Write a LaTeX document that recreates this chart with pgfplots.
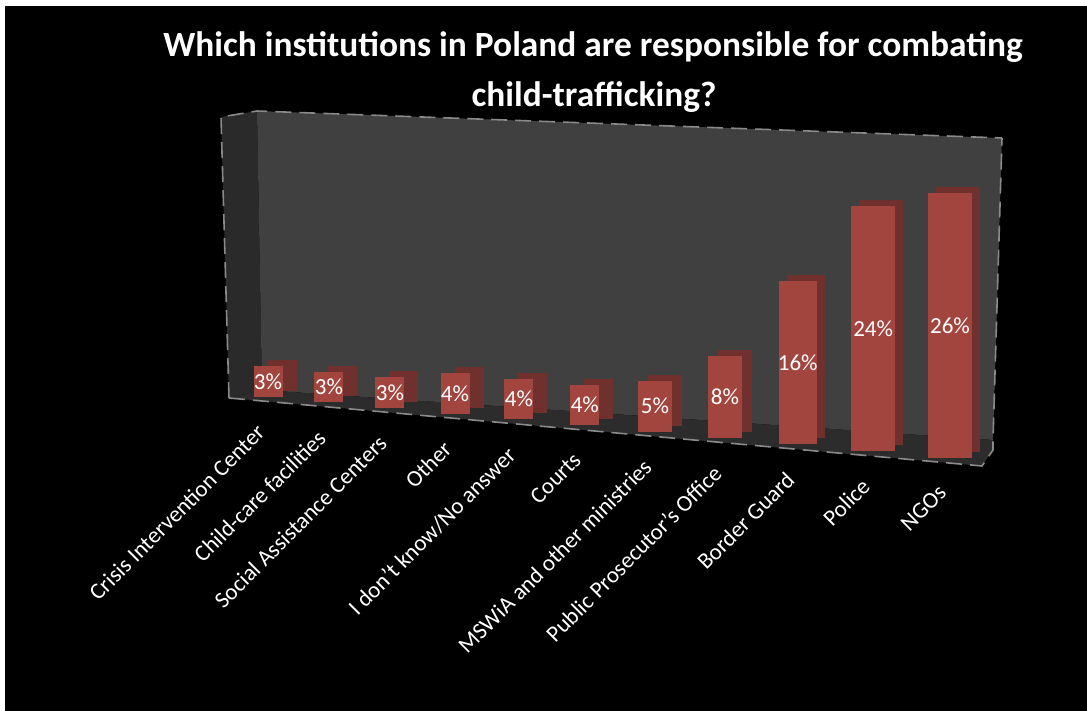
\documentclass[border=0pt]{standalone}
\usepackage{pgfplots}
\pgfplotsset{compat=1.18}
\usepackage{pgfplotstable}
\usepackage{fontspec}
\setmainfont{Carlito}
\definecolor{barfront}{HTML}{A3453F}
\definecolor{barside}{HTML}{70302D}
\definecolor{wallback}{HTML}{404040}
\definecolor{wallside}{HTML}{2A2A2A}
\definecolor{floorc}{HTML}{2C2C2C}
\definecolor{edgec}{HTML}{8A8A8A}
% category position, value
\pgfplotstableread{
x v
0 3
0.897 3
1.794 3
2.75 4
3.69 4
4.66 4
5.69 5
6.72 8
7.79 16
8.90 24
10.03 26
}\datatable
% the same bars as vertical segments from 0 to the value
\pgfplotstableread{
x y
0 0
0 3
nan nan
0.897 0
0.897 3
nan nan
1.794 0
1.794 3
nan nan
2.75 0
2.75 4
nan nan
3.69 0
3.69 4
nan nan
4.66 0
4.66 4
nan nan
5.69 0
5.69 5
nan nan
6.72 0
6.72 8
nan nan
7.79 0
7.79 16
nan nan
8.90 0
8.90 24
nan nan
10.03 0
10.03 26
}\bartable
\begin{document}
\begin{tikzpicture}[x=0.5pt,y=-0.5pt]
\useasboundingbox (0,0) rectangle (1087,711);
\fill[black] (0,0) rectangle (1087,711);
\fill[white] (0,0) rectangle (1087,6);
\fill[white] (0,0) rectangle (5,711);
\fill[wallside] (221,117) -- (257,111) -- (262,390) -- (229,398) -- cycle;
\fill[wallback] (257,111) -- (1002,138) -- (993,440) -- (262,390) -- cycle;
\fill[floorc] (229,398) -- (262,390) -- (993,440) -- (993,450) -- (982,466) -- cycle;
\draw[edgec, line width=0.8pt, dash pattern=on 8pt off 4pt] (229,398) -- (982,466) -- (993,450) -- (993,440) -- (1002,138);
\draw[edgec, line width=0.8pt, dash pattern=on 8pt off 4pt] (229,398) -- (221,117) -- (257,111) -- (1002,138);
\node[text=white, font=\bfseries\fontsize{17.7}{21}\selectfont, anchor=base, inner sep=0pt] at (593,57) {Which institutions in Poland are responsible for combating};
\node[text=white, font=\bfseries\fontsize{17.7}{21}\selectfont, anchor=base, inner sep=0pt] at (594,107) {child-trafficking?};
\begin{axis}[at={(134pt,-198.5pt)}, anchor=origin,
  x={(34pt,-3.04pt)}, y={(0pt,5.1pt)},
  xmin=-0.5, xmax=10.5, ymin=0, ymax=28, clip=false,
  axis x line*=bottom, axis y line=none,
  x axis line style={draw=none}, xtick style={draw=none},
  unbounded coords=jump,
  xtick={0,0.897,1.794,2.75,3.69,4.66,5.69,6.72,7.79,8.90,10.03},
  xticklabels={Crisis Intervention Center, Child-care facilities, Social Assistance Centers, Other, I don't know/No answer, Courts, MSWiA and other ministries, Public Prosecutor's Office, Border Guard, Police, NGOs},
  xticklabel style={text=white, font=\fontsize{11.5}{13}\selectfont, rotate=45, anchor=north east, xshift=-13.6pt, yshift=-4.3pt, inner sep=0pt},
  sidebar/.style={barside, line cap=butt, mark=none, yshift=3pt},
  frontbar/.style={barfront, line cap=butt, mark=none}]
% bars 1-6
\addplot[sidebar, line width=14.5pt, xshift=7pt, restrict x to domain=-1:5] table[x=x,y=y]{\bartable};
\addplot[frontbar, line width=14.5pt, restrict x to domain=-1:5] table[x=x,y=y]{\bartable};
% bars 7-8
\addplot[sidebar, line width=17pt, xshift=5pt, restrict x to domain=5.2:7.2] table[x=x,y=y]{\bartable};
\addplot[frontbar, line width=17pt, restrict x to domain=5.2:7.2] table[x=x,y=y]{\bartable};
% bar 9
\addplot[sidebar, line width=19pt, xshift=4.2pt, restrict x to domain=7.5:8.2] table[x=x,y=y]{\bartable};
\addplot[frontbar, line width=19pt, restrict x to domain=7.5:8.2] table[x=x,y=y]{\bartable};
% bars 10-11
\addplot[sidebar, line width=22pt, xshift=4pt, restrict x to domain=8.5:11] table[x=x,y=y]{\bartable};
\addplot[frontbar, line width=22pt, restrict x to domain=8.5:11] table[x=x,y=y]{\bartable};
\addplot[draw=none, mark=none, point meta=explicit,
  nodes near coords={\pgfmathprintnumber[assume math mode=true]{\pgfplotspointmeta}\%},
  every node near coord/.append style={anchor=center, text=white, font=\fontsize{11.5}{13}\selectfont}]
  table[x=x, y expr=\thisrow{v}/2, meta=v]{\datatable};
\end{axis}
\end{tikzpicture}
\end{document}
